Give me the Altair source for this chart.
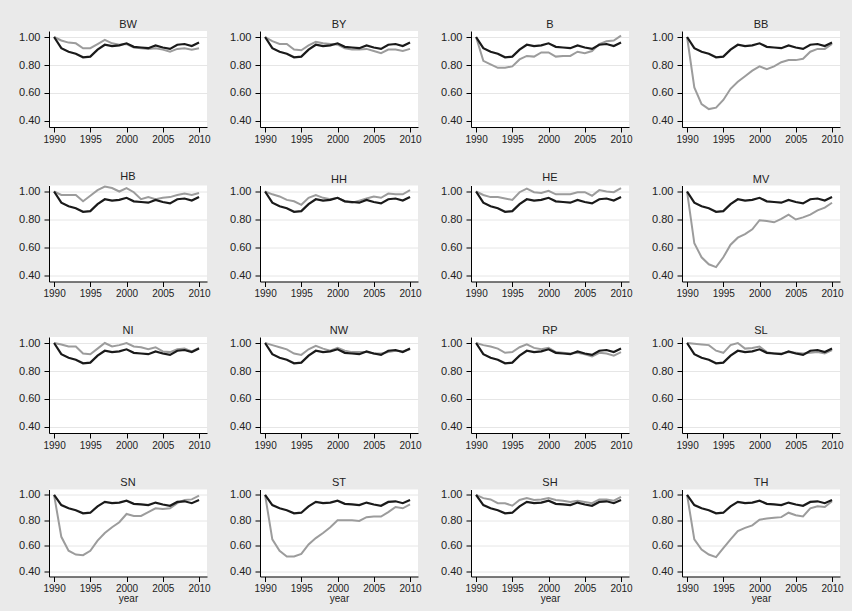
import altair as alt
import pandas as pd

# Index values (1990 = 1.00) by year
years = list(range(1990, 2011))

# National reference series, drawn in black in every panel
national = [1.00, 0.92, 0.895, 0.88, 0.855, 0.86, 0.91, 0.945, 0.935, 0.94, 0.955,
            0.93, 0.925, 0.92, 0.94, 0.925, 0.915, 0.945, 0.95, 0.935, 0.96]

# State series, drawn in grey
BW = [1.00, 0.975, 0.96, 0.955, 0.92, 0.92, 0.95, 0.98, 0.955, 0.945, 0.95,
      0.925, 0.92, 0.915, 0.92, 0.91, 0.895, 0.915, 0.92, 0.91, 0.92]
BY = [1.00, 0.97, 0.95, 0.95, 0.91, 0.905, 0.94, 0.965, 0.955, 0.95, 0.945,
      0.92, 0.91, 0.91, 0.915, 0.90, 0.885, 0.91, 0.91, 0.90, 0.915]
B = [1.00, 0.83, 0.805, 0.78, 0.78, 0.79, 0.84, 0.865, 0.86, 0.89, 0.89,
     0.86, 0.865, 0.865, 0.895, 0.885, 0.90, 0.95, 0.97, 0.975, 1.01]
BB = [1.00, 0.64, 0.52, 0.485, 0.495, 0.55, 0.63, 0.68, 0.72, 0.76, 0.79,
      0.77, 0.79, 0.82, 0.835, 0.835, 0.845, 0.895, 0.915, 0.915, 0.95]
HB = [1.00, 0.975, 0.975, 0.975, 0.93, 0.97, 1.01, 1.035, 1.025, 1.00, 1.025,
      0.995, 0.945, 0.96, 0.945, 0.955, 0.96, 0.975, 0.985, 0.975, 0.99]
HH = [1.00, 0.98, 0.965, 0.94, 0.93, 0.905, 0.955, 0.975, 0.955, 0.945, 0.955,
      0.93, 0.92, 0.935, 0.95, 0.965, 0.955, 0.985, 0.98, 0.98, 1.01]
HE = [1.00, 0.975, 0.96, 0.96, 0.95, 0.94, 0.995, 1.02, 0.995, 0.99, 1.005,
      0.98, 0.98, 0.98, 0.995, 0.995, 0.97, 1.01, 1.00, 0.995, 1.025]
MV = [1.00, 0.63, 0.53, 0.48, 0.46, 0.53, 0.62, 0.67, 0.695, 0.73, 0.795,
      0.79, 0.78, 0.805, 0.835, 0.80, 0.815, 0.835, 0.865, 0.885, 0.92]
NI = [1.00, 0.99, 0.975, 0.975, 0.925, 0.92, 0.96, 1.00, 0.975, 0.985, 1.00,
      0.975, 0.97, 0.955, 0.97, 0.94, 0.935, 0.955, 0.96, 0.94, 0.965]
NW = [1.00, 0.985, 0.97, 0.955, 0.925, 0.915, 0.955, 0.98, 0.96, 0.945, 0.965,
      0.945, 0.935, 0.935, 0.935, 0.925, 0.925, 0.935, 0.945, 0.94, 0.955]
RP = [1.00, 0.985, 0.975, 0.96, 0.93, 0.935, 0.97, 0.99, 0.965, 0.955, 0.965,
      0.935, 0.93, 0.925, 0.93, 0.92, 0.905, 0.93, 0.925, 0.91, 0.935]
SL = [1.00, 0.995, 0.99, 0.985, 0.945, 0.93, 0.985, 1.00, 0.96, 0.965, 0.975,
      0.935, 0.925, 0.925, 0.935, 0.93, 0.925, 0.93, 0.935, 0.925, 0.95]
SN = [1.00, 0.67, 0.56, 0.53, 0.525, 0.56, 0.64, 0.70, 0.745, 0.785, 0.85,
      0.835, 0.835, 0.865, 0.895, 0.89, 0.895, 0.935, 0.96, 0.965, 0.995]
ST = [1.00, 0.65, 0.56, 0.515, 0.515, 0.535, 0.61, 0.66, 0.70, 0.745, 0.80,
      0.80, 0.80, 0.795, 0.825, 0.83, 0.83, 0.865, 0.905, 0.895, 0.925]
SH = [1.00, 0.975, 0.965, 0.935, 0.935, 0.915, 0.96, 0.975, 0.96, 0.965, 0.975,
      0.96, 0.955, 0.945, 0.955, 0.945, 0.935, 0.965, 0.965, 0.955, 0.985]
TH = [1.00, 0.65, 0.57, 0.53, 0.51, 0.58, 0.65, 0.715, 0.74, 0.76, 0.805,
      0.815, 0.82, 0.825, 0.86, 0.84, 0.83, 0.895, 0.91, 0.905, 0.95]

panels = [
    ("BW", BW), ("BY", BY), ("B", B), ("BB", BB),
    ("HB", HB), ("HH", HH), ("HE", HE), ("MV", MV),
    ("NI", NI), ("NW", NW), ("RP", RP), ("SL", SL),
    ("SN", SN), ("ST", ST), ("SH", SH), ("TH", TH),
]

x_ticks = [1990, 1995, 2000, 2005, 2010]
y_ticks = [0.4, 0.6, 0.8, 1.0]

FONT = "Liberation Sans"
GREY = "#9c9c9c"
BLACK = "#1a1a1a"
BG = "#eaeaea"


def panel(code, values, bottom):
    df = pd.DataFrame({"year": years, "state": values, "national": national})
    x = alt.X(
        "year:Q",
        scale=alt.Scale(domain=[1989.3, 2011.1], nice=False, zero=False),
        axis=alt.Axis(values=x_ticks, format="d", grid=False, labelFontSize=10,
                      title="year" if bottom else None),
    )
    yscale = alt.Scale(domain=[0.357, 1.043], nice=False, zero=False)
    yaxis = alt.Axis(values=y_ticks, format=".2f", grid=True, title=None,
                     labelFontSize=11, labelPadding=4)
    base = alt.Chart(df)
    grey = base.mark_line(color=GREY, strokeWidth=2).encode(
        x=x, y=alt.Y("state:Q", scale=yscale, axis=yaxis))
    black = base.mark_line(color=BLACK, strokeWidth=2.2).encode(
        x=x, y=alt.Y("national:Q", scale=yscale, axis=yaxis))
    return alt.layer(grey, black).properties(
        width=158,
        height=87 if bottom else 96,
        title=alt.TitleParams(code, fontSize=11, font=FONT, fontWeight="normal",
                              color="#222222", anchor="middle", offset=1),
    )


rows = []
for r in range(4):
    row = [panel(code, vals, r == 3) for code, vals in panels[r * 4:(r + 1) * 4]]
    rows.append(alt.hconcat(*row, spacing=18))

chart = alt.vconcat(*rows, spacing=26.5).properties(
    background=BG,
    padding={"left": 18, "top": 19, "right": 8, "bottom": 10},
).configure_view(
    stroke=None, fill="white"
).configure_axis(
    labelFont=FONT, labelColor="#222222",
    titleFont=FONT, titleFontSize=10, titleColor="#222222", titleFontWeight="normal",
    titlePadding=0,
    domainColor="#000000", domainWidth=1,
    tickColor="#000000", tickSize=5, tickWidth=1,
    gridColor="#e6e6e6", gridWidth=1,
    labelPadding=2,
)

chart.save("out.html", embed_options={"renderer": "svg", "actions": False})
